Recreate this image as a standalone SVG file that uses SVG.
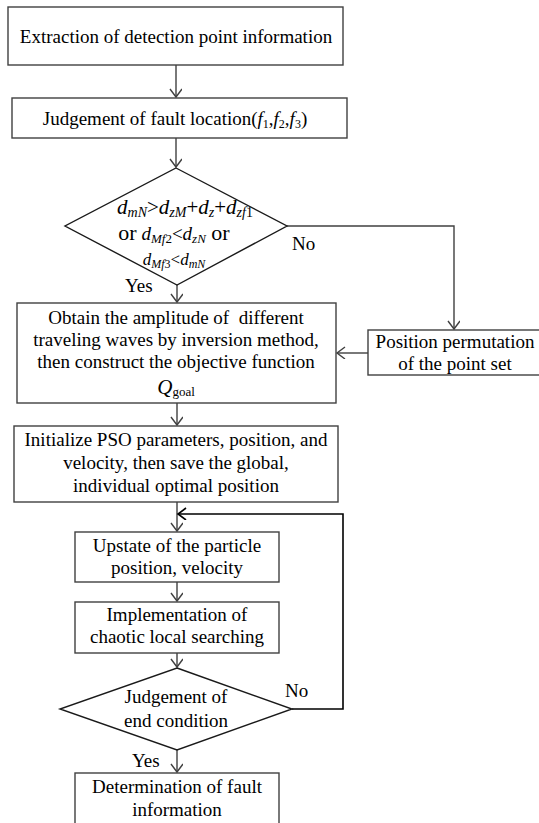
<svg xmlns="http://www.w3.org/2000/svg" width="539" height="823" viewBox="0 0 539 823">
<defs>
<style>
.box{fill:#fff;stroke:#404040;stroke-width:1.4}
.dia{fill:#fff;stroke:#1a1a1a;stroke-width:1.4}
.ln{fill:none;stroke:#404040;stroke-width:1.4}
.lk{fill:none;stroke:#000;stroke-width:1.6}
text{font-family:"Liberation Serif","Times New Roman",serif;font-size:19px;fill:#000}
.t{text-anchor:middle}
.i{font-style:italic}
.s{font-size:13px}
.s2{font-size:12px}
.b{font-size:21px}
.bs{font-size:14px}
.m{font-size:17px}
.ms{font-size:12px}
</style>
<marker id="ah" markerWidth="14" markerHeight="14" refX="10" refY="6" orient="auto" markerUnits="userSpaceOnUse">
<path d="M2,0 L10,6 L2,12" fill="none" stroke="#404040" stroke-width="1.4"/>
</marker>
<marker id="ahk" markerWidth="14" markerHeight="14" refX="10" refY="6" orient="auto" markerUnits="userSpaceOnUse">
<path d="M2,0 L10,6 L2,12" fill="none" stroke="#000" stroke-width="1.6"/>
</marker>
</defs>
<rect width="539" height="823" fill="#fff"/>

<g id="connectors">
<path class="ln" d="M176,65 V97" marker-end="url(#ah)"/>
<path class="ln" d="M176,138 V167" marker-end="url(#ah)"/>
<path class="ln" d="M177,285 V302" marker-end="url(#ah)"/>
<path class="ln" d="M287,226 H454 V329" marker-end="url(#ah)"/>
<path class="ln" d="M368,353 H337" marker-end="url(#ah)"/>
<path class="ln" d="M177,403 V425" marker-end="url(#ah)"/>
<path class="ln" d="M177,502 V531" marker-end="url(#ah)"/>
<path class="lk" d="M292,709 H343 V514 H178" marker-end="url(#ahk)"/>
<path class="ln" d="M177,582 V601" marker-end="url(#ah)"/>
<path class="ln" d="M177,653 V667" marker-end="url(#ah)"/>
<path class="ln" d="M177,750 V772" marker-end="url(#ah)"/>
<text x="292" y="250">No</text>
<text x="125" y="292">Yes</text>
<text x="285" y="697">No</text>
<text x="132" y="767">Yes</text>
</g>

<g id="n1">
<rect class="box" x="8" y="7" width="335" height="58"/>
<text class="t" x="176" y="43">Extraction of detection point information</text>
</g>

<g id="n2">
<rect class="box" x="12" y="98" width="335" height="40"/>
<text class="t" x="175" y="125">Judgement of fault location(<tspan class="i">f</tspan><tspan class="s2" dy="3">1</tspan><tspan dy="-3">,</tspan><tspan class="i">f</tspan><tspan class="s2" dy="3">2</tspan><tspan dy="-3">,</tspan><tspan class="i">f</tspan><tspan class="s2" dy="3">3</tspan><tspan dy="-3">)</tspan></text>
</g>

<g id="n3">
<polygon class="dia" points="176,168 287,226 177,285 65,226"/>
<text class="t" x="185" y="214"><tspan class="i b">d</tspan><tspan class="i bs" dy="3">mN</tspan><tspan class="b" dy="-3">&gt;</tspan><tspan class="i b">d</tspan><tspan class="i bs" dy="3">zM</tspan><tspan class="b" dy="-3">+</tspan><tspan class="i b">d</tspan><tspan class="i bs" dy="3">z</tspan><tspan class="b" dy="-3">+</tspan><tspan class="i b">d</tspan><tspan class="i bs" dy="3">zf</tspan><tspan class="bs">1</tspan></text>
<text class="t" x="174" y="240"><tspan font-size="22">or</tspan>  <tspan class="i">d</tspan><tspan class="i s" dy="3">Mf</tspan><tspan class="s">2</tspan><tspan dy="-3">&lt;</tspan><tspan class="i">d</tspan><tspan class="i s" dy="3">zN</tspan><tspan dy="-3" font-size="22">  or</tspan></text>
<text class="t" x="174" y="265"><tspan class="i m">d</tspan><tspan class="i ms" dy="3">Mf</tspan><tspan class="ms">3</tspan><tspan class="m" dy="-3">&lt;</tspan><tspan class="i m">d</tspan><tspan class="i ms" dy="3">mN</tspan></text>
</g>

<g id="n4">
<rect class="box" x="368" y="330" width="180" height="45"/>
<text class="t" x="455" y="348">Position permutation</text>
<text class="t" x="455" y="370">of the point set</text>
</g>

<g id="n5">
<rect class="box" x="17" y="303" width="319" height="100"/>
<text class="t" x="176" y="324" xml:space="preserve">Obtain the amplitude of  different</text>
<text class="t" x="176" y="346">traveling waves by inversion method,</text>
<text class="t" x="176" y="368">then construct the objective function</text>
<text class="t" x="176" y="394"><tspan class="i" font-size="21">Q</tspan><tspan class="s" dy="2">goal</tspan></text>
</g>

<g id="n6">
<rect class="box" x="14" y="426" width="324" height="76"/>
<text class="t" x="176" y="446">Initialize PSO parameters, position, and</text>
<text class="t" x="176" y="469">velocity, then save the global,</text>
<text class="t" x="176" y="492">individual optimal position</text>
</g>

<g id="n7">
<rect class="box" x="75" y="532" width="204" height="50"/>
<text class="t" x="177" y="552">Upstate of the particle</text>
<text class="t" x="177" y="574">position, velocity</text>
</g>

<g id="n8">
<rect class="box" x="75" y="602" width="204" height="51"/>
<text class="t" x="177" y="621">Implementation of</text>
<text class="t" x="177" y="643">chaotic local searching</text>
</g>

<g id="n9">
<polygon class="dia" points="177,668 292,709 177,750 60,709"/>
<text class="t" x="176" y="703">Judgement of</text>
<text class="t" x="176" y="727">end condition</text>
</g>

<g id="n10">
<rect class="box" x="75" y="773" width="204" height="60"/>
<text class="t" x="177" y="793">Determination of fault</text>
<text class="t" x="177" y="816">information</text>
</g>
</svg>
